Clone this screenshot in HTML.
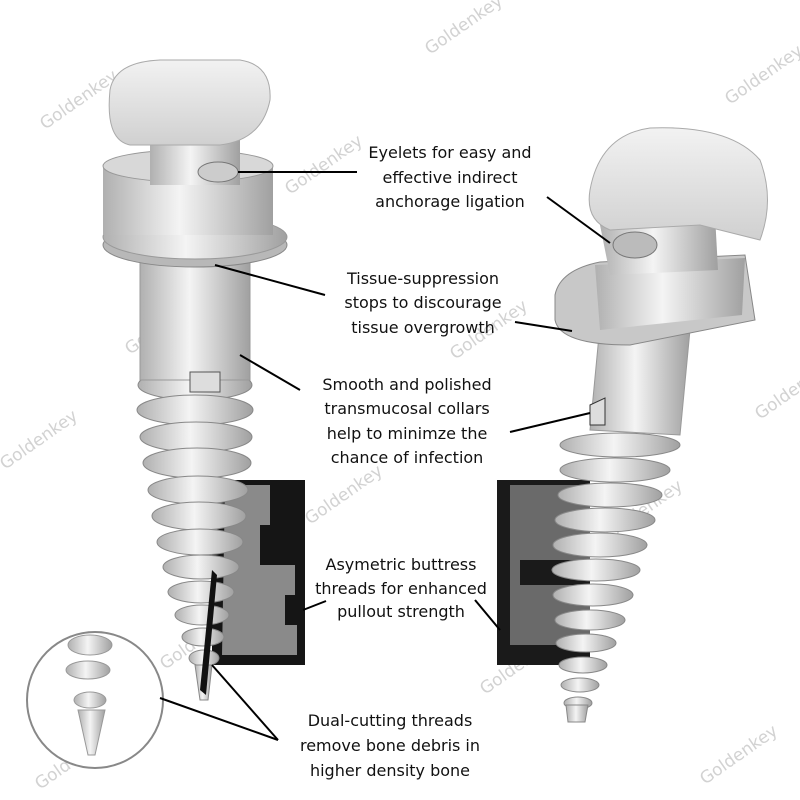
<!DOCTYPE html>
<html><head><meta charset="utf-8"><style>
body{margin:0;background:#fff;}
svg{display:block}
text{font-family:"DejaVu Sans","Liberation Sans",sans-serif;font-size:16px;fill:#111;}
.wm{font-size:17px;fill:#d2d2d2;}
</style></head><body>
<svg width="800" height="800" viewBox="0 0 800 800">
<defs>
<linearGradient id="g" x1="0" x2="1"><stop offset="0" stop-color="#b0b0b0"/><stop offset="0.45" stop-color="#f4f4f4"/><stop offset="1" stop-color="#a0a0a0"/></linearGradient>
<linearGradient id="h" x1="0" y1="0" x2="0" y2="1"><stop offset="0" stop-color="#f2f2f2"/><stop offset="1" stop-color="#d0d0d0"/></linearGradient>
</defs>
<g>
<text class="wm" transform="translate(45,130) rotate(-35)">Goldenkey</text>
<text class="wm" transform="translate(430,55) rotate(-35)">Goldenkey</text>
<text class="wm" transform="translate(730,105) rotate(-35)">Goldenkey</text>
<text class="wm" transform="translate(290,195) rotate(-35)">Goldenkey</text>
<text class="wm" transform="translate(130,355) rotate(-35)">Goldenkey</text>
<text class="wm" transform="translate(455,360) rotate(-35)">Goldenkey</text>
<text class="wm" transform="translate(760,420) rotate(-35)">Goldenkey</text>
<text class="wm" transform="translate(5,470) rotate(-35)">Goldenkey</text>
<text class="wm" transform="translate(310,525) rotate(-35)">Goldenkey</text>
<text class="wm" transform="translate(610,540) rotate(-35)">Goldenkey</text>
<text class="wm" transform="translate(165,670) rotate(-35)">Goldenkey</text>
<text class="wm" transform="translate(485,695) rotate(-35)">Goldenkey</text>
<text class="wm" transform="translate(705,785) rotate(-35)">Goldenkey</text>
<text class="wm" transform="translate(40,790) rotate(-35)">Goldenkey</text>
</g>

<rect x="212" y="480" width="93" height="185" fill="#151515"/>
<path d="M225,485 h45 v40 h-10 v40 h35 v30 h-10 v30 h12 v30 h-75z" fill="#8a8a8a"/>
<g fill="url(#g)" stroke="#888" stroke-width="1">
<ellipse cx="195" cy="385" rx="57" ry="15"/>
<ellipse cx="195" cy="410" rx="58" ry="15"/>
<ellipse cx="196" cy="437" rx="56" ry="15"/>
<ellipse cx="197" cy="463" rx="54" ry="15"/>
<ellipse cx="198" cy="490" rx="50" ry="14"/>
<ellipse cx="199" cy="516" rx="47" ry="14"/>
<ellipse cx="200" cy="542" rx="43" ry="13"/>
<ellipse cx="201" cy="567" rx="38" ry="12"/>
<ellipse cx="201" cy="592" rx="33" ry="11"/>
<ellipse cx="202" cy="615" rx="27" ry="10"/>
<ellipse cx="203" cy="637" rx="21" ry="9"/>
<ellipse cx="204" cy="658" rx="15" ry="8"/>
<path d="M195,665 L212,665 L208,700 L200,700 Z"/>
</g>
<path d="M212,570 L217,575 L206,695 L200,690 Z" fill="#111"/>
<rect x="140" y="245" width="110" height="135" fill="url(#g)" stroke="#999"/>
<rect x="190" y="372" width="30" height="20" fill="#ddd" stroke="#555"/>
<ellipse cx="195" cy="245" rx="92" ry="22" fill="#b8b8b8" stroke="#888"/>
<ellipse cx="195" cy="237" rx="92" ry="22" fill="url(#g)" stroke="#999"/>
<rect x="103" y="165" width="170" height="70" fill="url(#g)"/>
<ellipse cx="188" cy="166" rx="85" ry="16" fill="#d8d8d8" stroke="#999"/>
<rect x="150" y="130" width="90" height="55" fill="url(#g)"/>
<ellipse cx="218" cy="172" rx="20" ry="10" fill="#ccc" stroke="#777"/>
<path d="M110,90 Q115,62 160,60 L240,60 Q272,65 270,100 Q262,140 220,145 L130,145 Q105,140 110,90Z" fill="url(#h)" stroke="#aaa"/>

<rect x="497" y="480" width="93" height="185" fill="#1a1a1a"/>
<path d="M510,485 h80 v75 h-70 v25 h70 v60 h-80z" fill="#6a6a6a"/>
<g fill="url(#g)" stroke="#888" stroke-width="1">
<ellipse cx="620" cy="445" rx="60" ry="12"/>
<ellipse cx="615" cy="470" rx="55" ry="12"/>
<ellipse cx="610" cy="495" rx="52" ry="12"/>
<ellipse cx="605" cy="520" rx="50" ry="12"/>
<ellipse cx="600" cy="545" rx="47" ry="12"/>
<ellipse cx="596" cy="570" rx="44" ry="11"/>
<ellipse cx="593" cy="595" rx="40" ry="11"/>
<ellipse cx="590" cy="620" rx="35" ry="10"/>
<ellipse cx="586" cy="643" rx="30" ry="9"/>
<ellipse cx="583" cy="665" rx="24" ry="8"/>
<ellipse cx="580" cy="685" rx="19" ry="7"/>
<ellipse cx="578" cy="703" rx="14" ry="6"/>
<path d="M566,705 L588,705 L585,722 L568,722 Z"/>
</g>
<path d="M600,325 L690,330 L680,435 L590,430 Z" fill="url(#g)" stroke="#999"/>
<path d="M590,405 L605,398 L605,425 L590,425Z" fill="#ddd" stroke="#333"/>
<path d="M555,295 Q560,270 600,262 L745,255 L755,320 L630,345 Q560,345 555,320Z" fill="#c8c8c8" stroke="#888"/>
<path d="M595,265 L745,258 L742,315 L600,330Z" fill="url(#g)"/>
<path d="M600,225 L715,215 L718,270 L610,275Z" fill="url(#g)"/>
<ellipse cx="635" cy="245" rx="22" ry="13" fill="#bbb" stroke="#777"/>
<path d="M590,190 Q600,135 650,128 Q730,125 760,160 Q775,200 760,240 L700,225 L610,230 Q585,220 590,190Z" fill="url(#h)" stroke="#aaa"/>

<circle cx="95" cy="700" r="68" fill="#fff" stroke="#888" stroke-width="2"/>
<g fill="url(#g)" stroke="#999">
<ellipse cx="90" cy="645" rx="22" ry="10"/>
<ellipse cx="88" cy="670" rx="22" ry="9"/>
<ellipse cx="90" cy="700" rx="16" ry="8"/>
<path d="M78,710 L105,710 L95,755 L88,755Z"/>
</g>

<g stroke="#000" stroke-width="2" fill="none">
<line x1="238" y1="172" x2="357" y2="172"/>
<line x1="547" y1="197" x2="610" y2="243"/>
<line x1="215" y1="265" x2="325" y2="295"/>
<line x1="515" y1="322" x2="572" y2="331"/>
<line x1="240" y1="355" x2="300" y2="390"/>
<line x1="510" y1="432" x2="590" y2="413"/>
<line x1="303" y1="610" x2="326" y2="601"/>
<line x1="475" y1="600" x2="500" y2="630"/>
<line x1="212" y1="665" x2="278" y2="740"/>
<line x1="160" y1="698" x2="278" y2="740"/>
</g>

<g text-anchor="middle">
<text x="450" y="158">Eyelets for easy and</text>
<text x="450" y="183">effective indirect</text>
<text x="450" y="207">anchorage ligation</text>
<text x="423" y="284">Tissue-suppression</text>
<text x="423" y="308">stops to discourage</text>
<text x="423" y="333">tissue overgrowth</text>
<text x="407" y="390">Smooth and polished</text>
<text x="407" y="414">transmucosal collars</text>
<text x="407" y="439">help to minimze the</text>
<text x="407" y="463">chance of infection</text>
<text x="401" y="570">Asymetric buttress</text>
<text x="401" y="594">threads for enhanced</text>
<text x="401" y="617">pullout strength</text>
<text x="390" y="726">Dual-cutting threads</text>
<text x="390" y="751">remove bone debris in</text>
<text x="390" y="776">higher density bone</text>
</g>
</svg>
</body></html>
